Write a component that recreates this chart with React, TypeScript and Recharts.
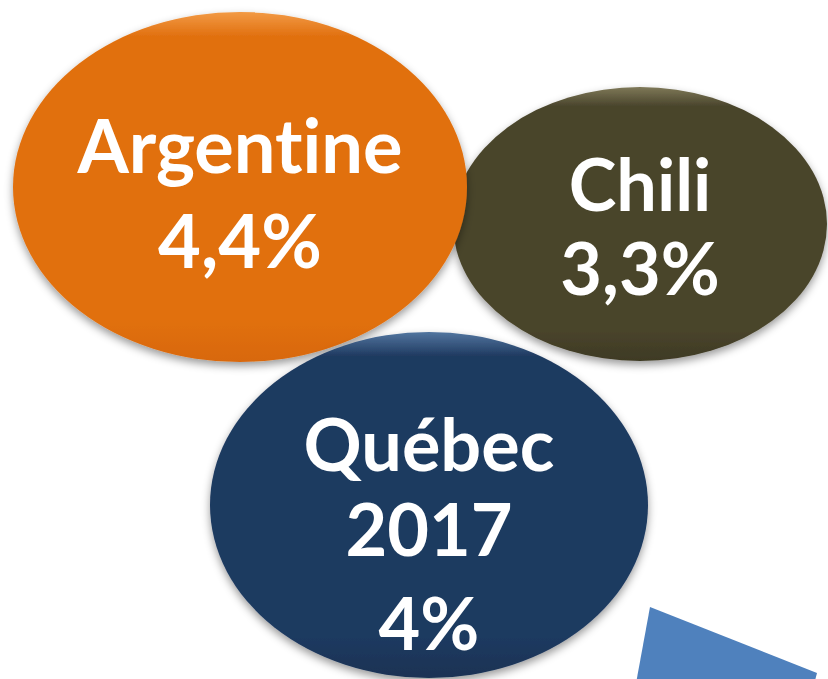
import React from 'react';
import { ScatterChart, Scatter, XAxis, YAxis } from 'recharts';

const countries = ['Argentine', 'Chili', 'Québec'];
const growthRates = [4.4, 3.3, 4];
const periodLabels = ['', '', '2017'];

const WIDTH = 828;
const HEIGHT = 679;

// placement of each bubble on the page (pixel units through the axes)
const LAYOUT: Record<string, any> = {
    Argentine: { x: 240, y: 187, rx: 227, ry: 175, top: '#F29A45', body: '#E1700F', bottom: '#D8680C', lines: [-14, 81], fontSize: 74 },
    Chili: { x: 640, y: 224, rx: 187, ry: 137, top: '#7E7858', body: '#4A452C', bottom: '#3E3A24', lines: [-13, 71], fontSize: 72 },
    Québec: { x: 429, y: 505, rx: 219, ry: 173, top: '#52759F', body: '#1F3A60', bottom: '#1A3254', lines: [-34, 51, 145], fontSize: 72 },
};
// draw order: Chili under Argentine, Québec last
const DRAW_ORDER = ['Chili', 'Argentine', 'Québec'];

const ARROW_TIP = [{ x: 650, y: 607 }];

const fmt = (v: number) => String(v).replace('.', ',') + '%';

const bubbleData = DRAW_ORDER.map(name => {
    const i = countries.indexOf(name);
    const lines = periodLabels[i] ? [name, periodLabels[i], fmt(growthRates[i])] : [name, fmt(growthRates[i])];
    return { name, value: growthRates[i], lines, x: LAYOUT[name].x, y: LAYOUT[name].y };
});

const Bubble = (props: any) => {
    const { cx, cy, payload } = props;
    const l = LAYOUT[payload.name];
    const gid = `grad-${payload.name.replace(/[^a-z]/gi, '')}`;
    return (
        <g>
            <defs>
                <linearGradient id={gid} x1="0" y1="0" x2="0" y2="1">
                    <stop offset="0%" stopColor={l.top} />
                    <stop offset="7%" stopColor={l.body} />
                    <stop offset="88%" stopColor={l.body} />
                    <stop offset="100%" stopColor={l.bottom} />
                </linearGradient>
            </defs>
            <ellipse cx={cx} cy={cy} rx={l.rx} ry={l.ry} fill={`url(#${gid})`} filter="url(#bubbleShadow)" />
            {payload.lines.map((t: string, k: number) => (
                <text
                    key={k}
                    x={cx}
                    y={cy + l.lines[k]}
                    textAnchor="middle"
                    fill="#FFFFFF"
                    fontFamily="Lato, 'Open Sans', sans-serif"
                    fontWeight={700}
                    fontSize={l.fontSize}
                    style={{ fontVariantLigatures: 'none' }}
                >
                    {t}
                </text>
            ))}
        </g>
    );
};

const Arrow = (props: any) => {
    const { cx, cy } = props;
    const pts = [[0, 0], [167, 66], [150, 130], [-22, 120]].map(([dx, dy]) => `${cx + dx},${cy + dy}`).join(' ');
    return <polygon points={pts} fill="#4F81BD" />;
};

export default function App() {
    return (
        <div style={{ position: 'absolute', left: 0, top: 0, width: WIDTH, height: HEIGHT, background: '#FFFFFF', overflow: 'hidden' }}>
            <ScatterChart width={WIDTH} height={HEIGHT} margin={{ top: 0, right: 0, bottom: 0, left: 0 }}>
                <defs>
                    <filter id="bubbleShadow" x="-10%" y="-10%" width="125%" height="130%">
                        <feDropShadow dx="0" dy="4" stdDeviation="4" floodColor="#000000" floodOpacity="0.4" />
                    </filter>
                </defs>
                <XAxis type="number" dataKey="x" domain={[0, WIDTH]} hide allowDataOverflow />
                <YAxis type="number" dataKey="y" domain={[0, HEIGHT]} reversed hide allowDataOverflow />
                <Scatter data={ARROW_TIP} shape={<Arrow />} isAnimationActive={false} />
                <Scatter data={bubbleData} shape={<Bubble />} isAnimationActive={false} />
            </ScatterChart>
        </div>
    );
}
